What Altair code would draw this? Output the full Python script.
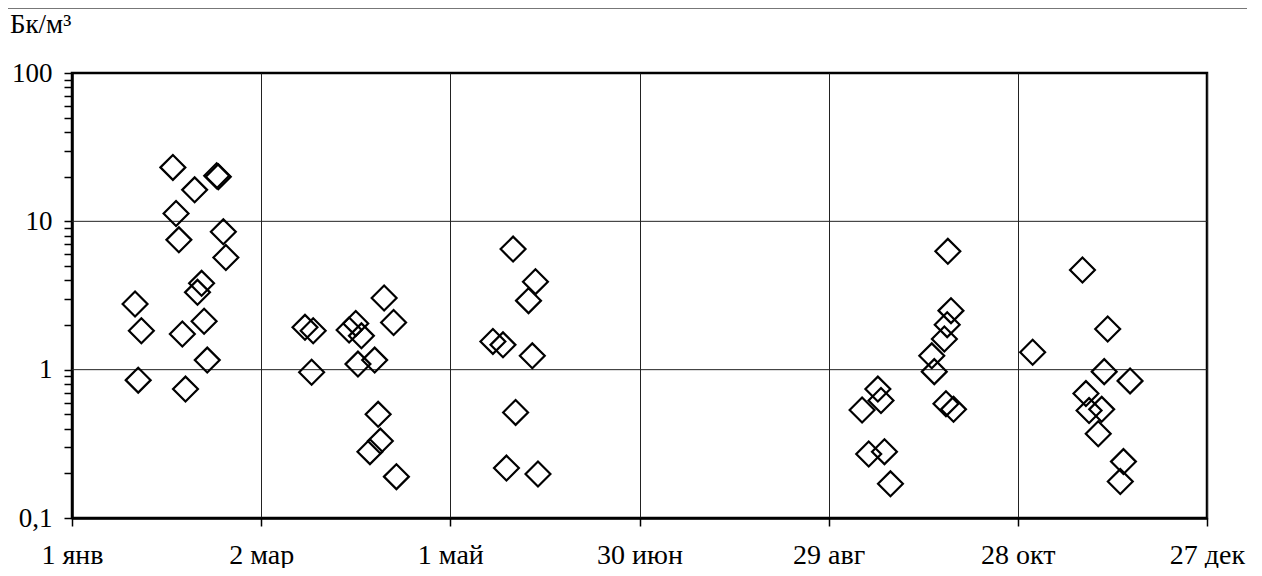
import json
import altair as alt
import pandas as pd

# ---- data (day of year since 1 Jan, Bq/m^3) ----
g1_day = [32.0, 38.9, 46.4, 45.9, 33.0, 33.9, 48.0, 48.8, 41.1, 39.8, 20.0, 22.0, 35.0, 41.9, 42.9, 21.0, 36.0]
g1_val = [23.1, 16.3, 20.0, 20.3, 11.3, 7.5, 8.5, 5.7, 3.82, 3.32, 2.77, 1.83, 1.74, 2.12, 1.16, 0.85, 0.74]

g2_day = [99.0, 102.0, 73.9, 76.5, 90.0, 87.9, 91.8, 76.0, 90.7, 96.0, 97.1, 97.8, 94.5, 102.9]
g2_val = [3.04, 2.08, 1.93, 1.83, 2.05, 1.85, 1.69, 0.96, 1.09, 1.16, 0.50, 0.33, 0.28, 0.19]

g3_day = [139.9, 147.0, 144.8, 133.5, 136.7, 146.0, 140.7, 137.8, 147.8]
g3_val = [6.5, 3.92, 2.92, 1.55, 1.47, 1.24, 0.515, 0.217, 0.198]

g4_day = [277.8, 278.8, 277.6, 276.7, 272.7, 273.5, 255.6, 256.6, 250.6, 277.2, 279.6, 252.7, 257.7, 259.6]
g4_val = [6.28, 2.50, 2.01, 1.61, 1.24, 0.97, 0.74, 0.62, 0.535, 0.59, 0.54, 0.27, 0.28, 0.17]

g5_day = [320.5, 328.5, 304.7, 327.4, 335.6, 321.6, 322.6, 326.6, 325.5, 333.5, 332.5]
g5_val = [4.70, 1.88, 1.31, 0.97, 0.84, 0.69, 0.53, 0.54, 0.37, 0.24, 0.176]

x_tick_values = [0, 60, 120, 180, 240, 300, 360]
x_tick_labels = ["1 янв", "2 мар", "1 май", "30 июн", "29 авг", "28 окт", "27 дек"]

y_label_values = [0.1, 1, 10, 100]
y_label_texts = ["0,1", "1", "10", "100"]
y_minor_values = [round(m * 10 ** e, 1) for e in (-1, 0, 1) for m in range(1, 10)] + [100]
h_grid_values = [1, 10]

unit_label = "Бк/м³"

FONT = "Liberation Serif"

df = pd.DataFrame({
    "day": g1_day + g2_day + g3_day + g4_day + g5_day,
    "value": g1_val + g2_val + g3_val + g4_val + g5_val,
})

x_scale = alt.Scale(domain=[0, 360], nice=False, zero=False)
y_scale = alt.Scale(type="log", domain=[0.1, 100], nice=False)

x_label_expr = f"{json.dumps(x_tick_labels, ensure_ascii=False)}[round(datum.value / 60)]"
yv = json.dumps(y_label_values)
y_label_expr = (
    f"indexof({yv}, datum.value) >= 0 ? "
    f"{json.dumps(y_label_texts)}[indexof({yv}, datum.value)] : ''"
)

x_axis = alt.Axis(
    values=x_tick_values, labelExpr=x_label_expr, title=None,
    grid=True, gridColor="#222222", gridWidth=1,
    tickSize=8, tickColor="black", tickWidth=1.5,
    domainColor="black", domainWidth=2.5,
    labelFlush=False, labelOverlap=False,
    labelPadding=15, labelFontSize=28, labelFont=FONT, labelColor="black",
)
y_axis = alt.Axis(
    values=y_minor_values, labelExpr=y_label_expr, title=None,
    grid=False,
    tickSize=8, tickColor="black", tickWidth=1.5,
    domainColor="black", domainWidth=2.5,
    labelFlush=False, labelOverlap=False,
    labelPadding=12, labelFontSize=27, labelFont=FONT, labelColor="black",
)

points = alt.Chart(df).mark_point(
    shape="diamond", filled=False, size=620, strokeWidth=2.2, color="black", opacity=1
).encode(
    x=alt.X("day:Q", scale=x_scale, axis=x_axis),
    y=alt.Y("value:Q", scale=y_scale, axis=y_axis),
)

hgrid = alt.Chart(pd.DataFrame({"value": h_grid_values})).mark_rule(
    color="#222222", strokeWidth=1
).encode(y=alt.Y("value:Q", scale=y_scale))

title_txt = alt.Chart(pd.DataFrame({"t": [unit_label]})).mark_text(
    align="left", baseline="alphabetic", font=FONT, fontSize=27, color="black"
).encode(text="t:N", x=alt.value(-62), y=alt.value(-40))

top_line = alt.Chart(pd.DataFrame({"a": [0]})).mark_rule(
    color="#777777", strokeWidth=2
).encode(x=alt.value(-64), x2=alt.value(1175), y=alt.value(-65))

chart = alt.layer(hgrid, points, title_txt, top_line).properties(
    width=1135, height=445,
    padding={"left": 64, "top": 65, "right": 40, "bottom": 50},
    autosize=alt.AutoSizeParams(type="none"),
).configure(
    font=FONT,
    background="white",
    view=alt.ViewConfig(stroke="black", strokeWidth=2.5),
)

chart.save("out.html", embed_options={"renderer": "svg", "actions": False})
